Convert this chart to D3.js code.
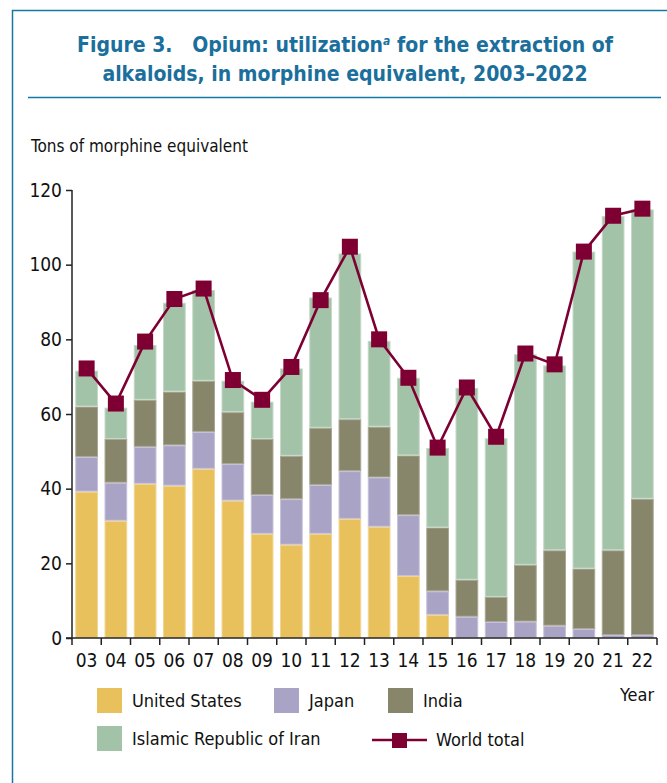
<!doctype html>
<html>
<head>
<meta charset="utf-8">
<script src="https://d3js.org/d3.v7.min.js"></script>
<style>
  body { margin: 0; background: #fff; }
  svg text { font-family: "Liberation Sans Narrow", "DejaVu Sans Condensed", "Liberation Sans", sans-serif; }
</style>
</head>
<body>
<svg width="667" height="783"></svg>
<script>
// data
var years = ["03","04","05","06","07","08","09","10","11","12","13","14","15","16","17","18","19","20","21","22"];
var unitedStates = [39.2, 31.4, 41.3, 40.8, 45.3, 36.8, 27.9, 25.0, 27.9, 31.9, 29.8, 16.6, 6.2, 0, 0, 0, 0, 0, 0, 0];
var japan        = [9.3, 10.2, 9.9, 10.8, 9.9, 9.8, 10.4, 12.2, 13.1, 12.8, 13.2, 16.3, 6.3, 5.7, 4.3, 4.4, 3.3, 2.4, 0.8, 0.8];
var india        = [13.5, 11.7, 12.6, 14.4, 13.7, 13.9, 15.0, 11.6, 15.3, 13.9, 13.6, 16.0, 17.1, 9.9, 6.7, 15.2, 20.2, 16.2, 22.7, 36.5];
var iran         = [9.6, 8.4, 14.7, 23.8, 24.3, 8.4, 10.0, 23.4, 34.9, 44.4, 23.0, 20.8, 21.3, 51.4, 42.5, 56.4, 49.5, 84.9, 89.5, 77.5];
var worldTotal   = [72.2, 62.8, 79.4, 90.8, 93.6, 69.1, 63.8, 72.6, 90.5, 104.8, 80.0, 69.7, 51.0, 67.1, 53.9, 76.2, 73.3, 103.5, 113.1, 115.0];
var yTicks = [0, 20, 40, 60, 80, 100, 120];

var seriesNames = ["United States", "Japan", "India", "Islamic Republic of Iran"];
var colors = ["#e9c15c", "#a9a3c5", "#87856a", "#a3c3a8"];
var strokes = ["#f1d592", "#c6c1da", "#a9a792", "#c3d8c6"];
var lineColor = "#7e0033";
var blue = "#1577a6";

var svg = d3.select("svg");

// frame and title
svg.append("path")
  .attr("d", "M12.5,783 V10.5 H667")
  .attr("fill", "none").attr("stroke", blue).attr("stroke-width", 1.5);
svg.append("line")
  .attr("x1", 28).attr("x2", 661).attr("y1", 97.5).attr("y2", 97.5)
  .attr("stroke", blue).attr("stroke-width", 1.5);

var title = svg.append("text")
  .attr("text-anchor", "middle")
  .attr("fill", "#1a6f9c")
  .style("font-size", "21px").style("font-weight", "bold");
var t1 = title.append("tspan").attr("x", 345).attr("y", 52);
t1.append("tspan").text("Figure 3.\u00a0\u00a0\u00a0Opium: utilization");
t1.append("tspan").attr("dy", -7).style("font-size", "12px").style("font-style", "italic").text("a");
t1.append("tspan").attr("dy", 7).text(" for the extraction of");
title.append("tspan").attr("x", 345).attr("y", 81).text("alkaloids, in morphine equivalent, 2003\u20132022");

svg.append("text")
  .attr("x", 31).attr("y", 152)
  .style("font-size", "17px").attr("fill", "#111")
  .text("Tons of morphine equivalent");

// scales
var x = d3.scaleBand().domain(years).range([72, 657]).paddingInner(0.224).paddingOuter(0.112);
var y = d3.scaleLinear().domain([0, 120]).range([638, 190]);

// stacked bars
var rows = years.map(function(yr, i) {
  return { year: yr, us: unitedStates[i], jp: japan[i], in: india[i], ir: iran[i] };
});
var stack = d3.stack().keys(["us", "jp", "in", "ir"])(rows);

svg.append("g").selectAll("g")
  .data(stack)
  .enter().append("g")
  .attr("fill", function(d, i) { return colors[i]; })
  .attr("stroke", function(d, i) { return strokes[i]; })
  .attr("stroke-width", 1)
  .selectAll("rect")
  .data(function(d) { return d.filter(function(p) { return p[1] - p[0] > 0; }); })
  .enter().append("rect")
  .attr("x", function(d) { return x(d.data.year) + 0.5; })
  .attr("width", x.bandwidth() - 1)
  .attr("y", function(d) { return y(d[1]) + 0.5; })
  .attr("height", function(d) { return Math.max(0, y(d[0]) - y(d[1]) - 1); });

// axes
var yAxis = svg.append("g")
  .attr("transform", "translate(72,0)")
  .call(d3.axisLeft(y).tickValues(yTicks).tickSize(6).tickPadding(4));
yAxis.select(".domain").attr("d", "M0,190 V638").attr("stroke", "#222").attr("stroke-width", 1.5);
yAxis.selectAll(".tick line").attr("stroke", "#222").attr("stroke-width", 1.5);
yAxis.selectAll("text").style("font-size", "19px").attr("fill", "#111");

var xAxis = svg.append("g")
  .attr("transform", "translate(0,638)")
  .call(d3.axisBottom(x).tickSize(0).tickPadding(16));
xAxis.select(".domain").attr("d", "M66,0 H657").attr("stroke", "#222").attr("stroke-width", 1.5);
xAxis.selectAll("text").style("font-size", "19px").attr("fill", "#111");

// ticks on the band edges
var edges = d3.range(years.length + 1);
svg.append("g").selectAll("line")
  .data(edges)
  .enter().append("line")
  .attr("x1", function(i) { return x.range()[0] + i * x.step(); })
  .attr("x2", function(i) { return x.range()[0] + i * x.step(); })
  .attr("y1", 638).attr("y2", 645)
  .attr("stroke", "#222").attr("stroke-width", 1.5);

svg.append("text").attr("x", 620).attr("y", 701)
  .style("font-size", "18px").attr("fill", "#111").text("Year");

// world total line
var cx = function(d, i) { return x(years[i]) + x.bandwidth() / 2; };
var line = d3.line()
  .x(cx)
  .y(function(d) { return y(d); });

svg.append("path")
  .datum(worldTotal)
  .attr("d", line)
  .attr("fill", "none")
  .attr("stroke", lineColor)
  .attr("stroke-width", 2.6);

svg.append("g").selectAll("rect")
  .data(worldTotal)
  .enter().append("rect")
  .attr("x", function(d, i) { return cx(d, i) - 8; })
  .attr("y", function(d) { return y(d) - 8; })
  .attr("width", 16).attr("height", 16)
  .attr("fill", lineColor);

// legend
var legendItems = [
  { name: seriesNames[0], color: colors[0], x: 97, y: 688 },
  { name: seriesNames[1], color: colors[1], x: 274, y: 688 },
  { name: seriesNames[2], color: colors[2], x: 388, y: 688 },
  { name: seriesNames[3], color: colors[3], x: 97, y: 726 }
];
var legend = svg.append("g");
legendItems.forEach(function(it) {
  legend.append("rect").attr("x", it.x).attr("y", it.y).attr("width", 25).attr("height", 25).attr("fill", it.color);
  legend.append("text").attr("x", it.x + 35).attr("y", it.y + 19)
    .style("font-size", "18px").attr("fill", "#111").text(it.name);
});
legend.append("line").attr("x1", 372).attr("x2", 427).attr("y1", 740).attr("y2", 740)
  .attr("stroke", lineColor).attr("stroke-width", 2.6);
legend.append("rect").attr("x", 392).attr("y", 733).attr("width", 15).attr("height", 15).attr("fill", lineColor);
legend.append("text").attr("x", 436).attr("y", 746)
  .style("font-size", "18px").attr("fill", "#111").text("World total");
</script>
</body>
</html>
